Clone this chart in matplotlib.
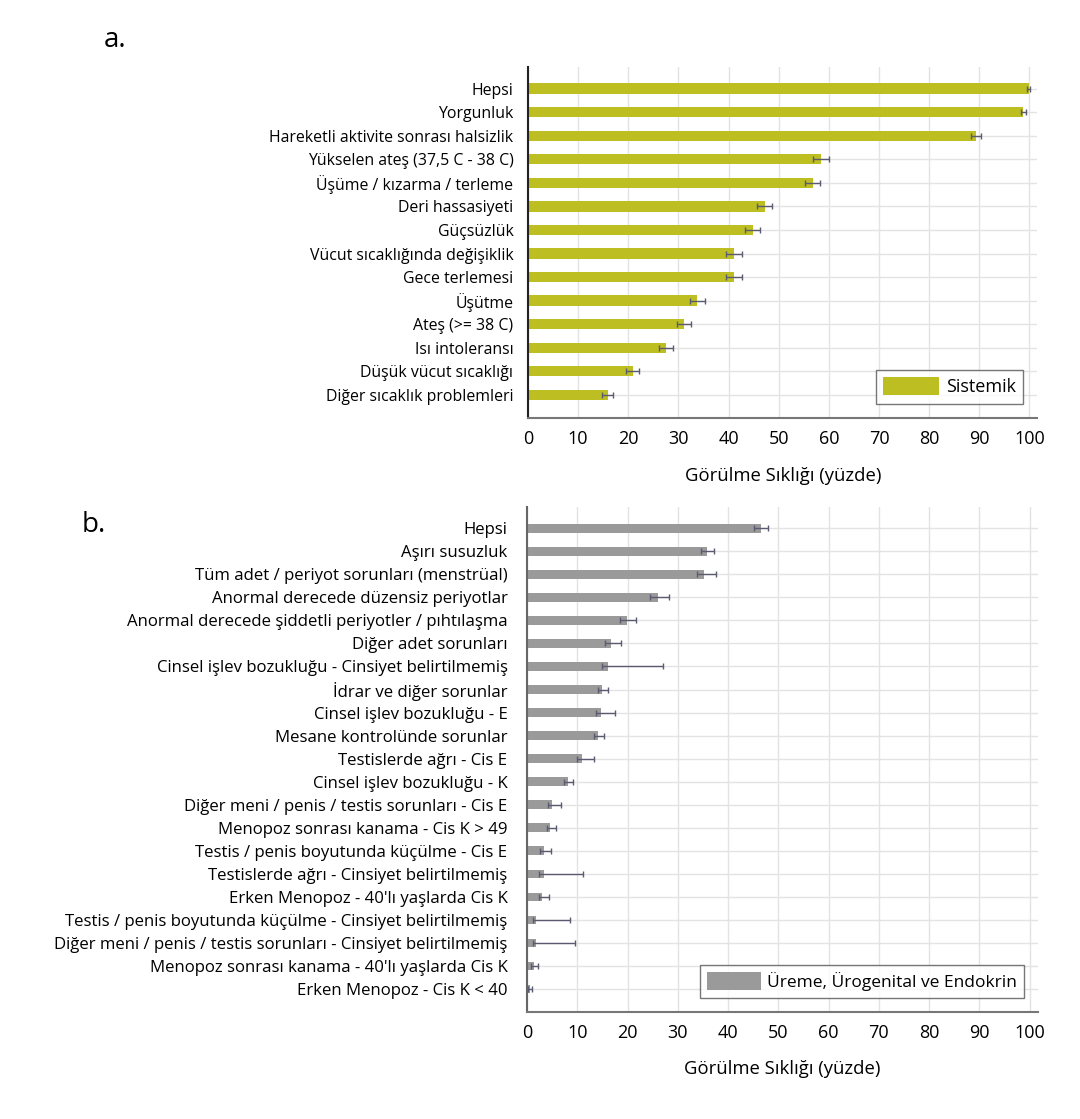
import matplotlib
matplotlib.use("Agg")
import matplotlib.pyplot as plt

plt.rcParams['font.family'] = ['Open Sans', 'DejaVu Sans']

# panel a - Sistemik
a_labels = ['Hepsi', 'Yorgunluk', 'Hareketli aktivite sonrası halsizlik',
            'Yükselen ateş (37,5 C - 38 C)', 'Üşüme / kızarma / terleme',
            'Deri hassasiyeti', 'Güçsüzlük', 'Vücut sıcaklığında değişiklik',
            'Gece terlemesi', 'Üşütme', 'Ateş (>= 38 C)', 'Isı intoleransı',
            'Düşük vücut sıcaklığı', 'Diğer sıcaklık problemleri']
a_values = [99.9, 98.8, 89.4, 58.5, 56.8, 47.2, 44.8, 41.1, 41.0, 33.8, 31.1, 27.5, 20.9, 15.9]
a_err = [0.3, 0.5, 1.0, 1.6, 1.5, 1.5, 1.5, 1.6, 1.6, 1.5, 1.4, 1.4, 1.3, 1.1]

# panel b - Üreme, Ürogenital ve Endokrin
b_labels = ['Hepsi', 'Aşırı susuzluk', 'Tüm adet / periyot sorunları (menstrüal)',
            'Anormal derecede düzensiz periyotlar',
            'Anormal derecede şiddetli periyotler / pıhtılaşma',
            'Diğer adet sorunları', 'Cinsel işlev bozukluğu - Cinsiyet belirtilmemiş',
            'İdrar ve diğer sorunlar', 'Cinsel işlev bozukluğu - E',
            'Mesane kontrolünde sorunlar', 'Testislerde ağrı - Cis E',
            'Cinsel işlev bozukluğu - K', 'Diğer meni / penis / testis sorunları - Cis E',
            'Menopoz sonrası kanama - Cis K > 49', 'Testis / penis boyutunda küçülme - Cis E',
            'Testislerde ağrı - Cinsiyet belirtilmemiş', "Erken Menopoz - 40'lı yaşlarda Cis K",
            'Testis / penis boyutunda küçülme - Cinsiyet belirtilmemiş',
            'Diğer meni / penis / testis sorunları - Cinsiyet belirtilmemiş',
            "Menopoz sonrası kanama - 40'lı yaşlarda Cis K", 'Erken Menopoz - Cis K < 40']
b_values = [46.5, 35.9, 35.3, 26.1, 19.9, 16.8, 16.1, 15.0, 14.7, 14.2, 11.0,
            8.2, 5.0, 4.6, 3.3, 3.3, 3.0, 1.7, 1.7, 1.3, 0.6]
b_err_lo = [1.4, 1.3, 1.4, 1.6, 1.4, 1.2, 1.2, 0.8, 1.0, 0.8, 1.1,
            0.8, 0.9, 0.7, 0.8, 0.9, 0.6, 0.6, 0.6, 0.5, 0.4]
b_err_hi = [1.4, 1.4, 2.4, 2.2, 1.8, 1.8, 10.9, 1.2, 2.9, 1.1, 2.4,
            0.9, 1.8, 1.2, 1.5, 7.9, 1.4, 6.9, 7.9, 0.8, 0.4]

ticks = list(range(0, 101, 10))
xlabel = 'Görülme Sıklığı (yüzde)'

fig = plt.figure(figsize=(10.8, 11.19), dpi=100)


def draw_panel(ax, labels, values, err, color, bar_h, legend_name, spine_color,
               label_size, label_pad, legend_size):
    pos = list(range(len(labels)))
    ax.barh(pos, values, height=bar_h, color=color, zorder=2, label=legend_name)
    ax.errorbar(values, pos, xerr=err, fmt='none', ecolor='#5a5a70',
                elinewidth=1.0, capsize=2, capthick=1.0, zorder=3)
    ax.set_yticks(pos)
    ax.set_yticklabels(labels, fontsize=label_size)
    ax.set_xticks(ticks)
    ax.set_xticklabels([str(t) for t in ticks], fontsize=13)
    ax.set_xlim(0, 101.6)
    ax.set_ylim(len(labels) - 1 + 0.98, -0.92)
    ax.grid(True, color='#e3e3e3', linewidth=1.0, zorder=0)
    ax.set_axisbelow(True)
    for s in ['top', 'right']:
        ax.spines[s].set_visible(False)
    ax.spines['left'].set_color(spine_color)
    ax.spines['left'].set_linewidth(1.5)
    ax.spines['bottom'].set_color('#777777')
    ax.spines['bottom'].set_linewidth(1.5)
    ax.tick_params(axis='both', length=0)
    ax.tick_params(axis='y', pad=label_pad)
    ax.tick_params(axis='x', pad=9)
    ax.set_xlabel(xlabel, fontsize=13.3, labelpad=13)
    leg = ax.legend(loc='lower right', fontsize=legend_size, frameon=True, fancybox=False,
                    edgecolor='#555555', handlelength=3.1, handleheight=1.2,
                    handletextpad=0.35, borderaxespad=0.8)
    leg.get_frame().set_linewidth(1.0)


ax_a = fig.add_axes([0.4889, 0.6265, 0.4717, 0.3137])
draw_panel(ax_a, a_labels, a_values, a_err, '#bdbe22', 0.44, 'Sistemik', '#222222',
           11.4, 10.5, 13)

ax_b = fig.add_axes([0.488, 0.0959, 0.4727, 0.451])
draw_panel(ax_b, b_labels, b_values, [b_err_lo, b_err_hi], '#9a9a9a', 0.38,
           'Üreme, Ürogenital ve Endokrin', '#666666', 12.1, 14, 12.5)

fig.text(115 / 1080, 1 - 40 / 1119, 'a.', fontsize=20, ha='center', va='center')
fig.text(94 / 1080, 1 - 525 / 1119, 'b.', fontsize=20, ha='center', va='center')

fig.savefig('out.png', dpi=100, facecolor='white')
